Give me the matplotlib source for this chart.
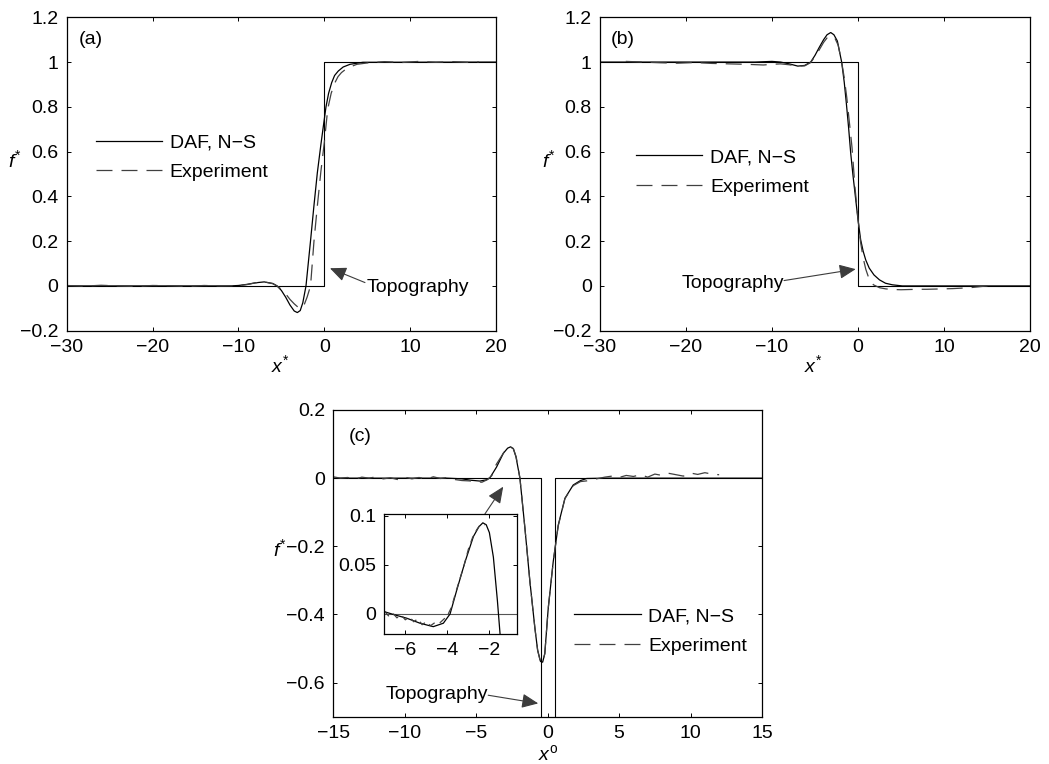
import matplotlib
matplotlib.use("Agg")
import matplotlib.pyplot as plt
from matplotlib.ticker import FixedLocator, FuncFormatter

plt.rcParams["font.family"] = ["Liberation Sans", "DejaVu Sans"]
plt.rcParams["font.size"] = 14
plt.rcParams["mathtext.fontset"] = "custom"
plt.rcParams["mathtext.it"] = "Liberation Sans:italic"
plt.rcParams["mathtext.rm"] = "Liberation Sans"
plt.rcParams["lines.scale_dashes"] = False
plt.rcParams["axes.linewidth"] = 0.9

# ---------------- panel (a): step up ----------------
topo_a_x = [-30, 0, 0, 20]
topo_a_y = [0, 0, 1, 1]

daf_a_x = [-30, -11, -10, -9, -8, -7, -6, -5.5, -5, -4.5, -4, -3.5, -3.14, -2.8,
           -2.5, -2.13, -1.59, -1.2, -0.81, -0.4, -0.11, 0.2, 0.5, 0.86, 1.2,
           1.63, 2.2, 3.0, 4.5, 20]
daf_a_y = [0, 0, 0.002, 0.007, 0.014, 0.018, 0.011, 0.0, -0.02, -0.05, -0.085,
           -0.112, -0.119, -0.11, -0.075, 0.0, 0.206, 0.36, 0.505, 0.63, 0.713,
           0.8, 0.86, 0.908, 0.94, 0.96, 0.978, 0.99, 0.999, 1.0]

exp_a_x = [-30, -28, -26, -24, -22, -20, -18, -16, -14, -12, -10, -9, -8, -7, -6,
           -5.5, -5, -4.5, -4, -3.5, -3.0, -2.7, -2.4, -2.0, -1.6, -1.2, -0.8,
           -0.4, 0.0, 0.4, 0.8, 1.2, 1.6, 2.0, 2.5, 3.0, 3.8, 5, 7, 9, 11, 13,
           15, 17, 18]
exp_a_y = [0.002, -0.001, 0.003, 0.0, -0.002, 0.002, 0.001, -0.002, 0.002, 0.0,
           0.001, 0.006, 0.014, 0.018, 0.01, 0.0, -0.015, -0.035, -0.06, -0.08,
           -0.097, -0.1, -0.09, -0.05, 0.0, 0.2, 0.36, 0.51, 0.64, 0.79, 0.86,
           0.905, 0.935, 0.953, 0.968, 0.978, 0.99, 0.996, 1.002, 0.998, 1.003,
           0.999, 1.002, 0.998, 1.001]

# ---------------- panel (b): step down ----------------
topo_b_x = [-30, 0, 0, 20]
topo_b_y = [1, 1, 0, 0]

daf_b_x = [-30, -12, -10, -9, -8, -7, -6.2, -5.5, -5, -4.53, -4, -3.6, -3.17,
           -2.8, -2.4, -1.9, -1.6, -1.36, -1.1, -0.85, -0.6, -0.35, 0.0, 0.31,
           0.6, 0.9, 1.3, 1.86, 2.5, 3.2, 4.0, 5.15, 20]
daf_b_y = [1, 1, 1.003, 1.0, 0.992, 0.982, 0.985, 1.0, 1.03, 1.064, 1.1, 1.122,
           1.132, 1.122, 1.094, 1.0, 0.91, 0.818, 0.71, 0.594, 0.5, 0.415, 0.296,
           0.206, 0.155, 0.116, 0.08, 0.049, 0.027, 0.012, 0.005, 0.0, 0.0]

exp_b_x = [-27, -25, -23, -21, -19, -17, -15, -13, -11, -10, -9, -8, -7, -6.2,
           -5.5, -5, -4.5, -4, -3.6, -3.1, -2.7, -2.3, -1.9, -1.6, -1.3, -1.0,
           -0.7, -0.35, 0.0, 0.3, 0.6, 0.9, 1.3, 1.8, 2.5, 3.2, 4, 5, 6, 7, 8,
           9, 10, 11, 12, 13, 14, 15, 15.8]
exp_b_y = [1.003, 1.0, 0.997, 0.995, 0.998, 0.994, 0.992, 0.99, 0.987, 0.99,
           0.992, 0.988, 0.982, 0.983, 0.998, 1.025, 1.055, 1.088, 1.108, 1.117,
           1.108, 1.075, 1.0, 0.93, 0.84, 0.73, 0.62, 0.44, 0.3, 0.195, 0.125,
           0.075, 0.03, 0.005, -0.008, -0.013, -0.016, -0.017, -0.016, -0.015,
           -0.015, -0.014, -0.013, -0.012, -0.01, -0.008, -0.004, 0.0, 0.004]

# ---------------- panel (c): narrow trench ----------------
topo_c_x = [-15, -0.5, -0.5, 0.5, 0.5, 15]
topo_c_y = [0, 0, -1, -1, 0, 0]

daf_c_x = [-15, -8, -7, -6, -5.4, -4.74, -4.3, -4.04, -3.57, -3.1, -2.8, -2.59,
           -2.4, -2.22, -1.94, -1.59, -1.24, -0.89, -0.7, -0.5, -0.35, -0.2,
           0.04, 0.39, 0.74, 1.21, 1.79, 2.3, 2.73, 4, 15]
daf_c_y = [0, 0, 0.0, -0.002, -0.006, -0.0085, -0.005, 0.001, 0.033, 0.073,
           0.088, 0.092, 0.086, 0.063, 0.0, -0.147, -0.304, -0.441, -0.505,
           -0.538, -0.54, -0.515, -0.382, -0.245, -0.138, -0.059, -0.02, -0.007,
           -0.001, 0, 0]

exp_c_x = [-15, -14.5, -14, -13.5, -13, -12.5, -12, -11.5, -11, -10.5, -10,
           -9.5, -9, -8.5, -8, -7.5, -7, -6.5, -6, -5.5, -5, -4.6, -4.2, -3.9,
           -3.6, -3.3, -3.0, -2.8, -2.59, -2.4, -2.2, -1.94, -1.59, -1.24, -0.89,
           -0.7, -0.5, -0.35, -0.2, 0.04, 0.39, 0.74, 1.21, 1.79, 2.3, 2.73, 3.2,
           4, 4.5, 5, 5.5, 6, 6.5, 7, 7.5, 8, 8.5, 9, 9.5, 10, 10.5, 11, 11.5, 12]
exp_c_y = [0.004, 0.0, 0.002, -0.003, 0.003, 0.0, 0.004, -0.002, 0.001, -0.004,
           0.003, -0.002, 0.002, -0.003, 0.004, -0.001, 0.002, -0.004, -0.007,
           -0.008, -0.01, -0.012, -0.004, 0.008, 0.04, 0.06, 0.08, 0.088, 0.091,
           0.087, 0.062, 0.0, -0.147, -0.304, -0.441, -0.505, -0.54, -0.54,
           -0.515, -0.382, -0.245, -0.14, -0.06, -0.022, -0.01, -0.008, -0.004,
           0.003, 0.006, 0.002, 0.008, 0.005, 0.01, 0.003, 0.012, 0.008, 0.014,
           0.01, 0.006, 0.015, 0.011, 0.016, 0.012, 0.01]

# close-up of the upstream hump, as plotted in the inset
inset_daf_x = [-7.0, -6.5, -5.93, -5.3, -4.67, -4.19, -3.87, -3.55, -3.16, -2.76,
               -2.5, -2.31, -2.15, -2.0, -1.81, -1.62, -1.49]
inset_daf_y = [0.0023, -0.001, -0.0044, -0.0095, -0.013, -0.0095, 0.0, 0.0245,
               0.053, 0.079, 0.089, 0.093, 0.091, 0.083, 0.058, 0.014, -0.021]
inset_exp_x = [-7.0, -6.8, -6.6, -6.4, -6.2, -6.0, -5.8, -5.6, -5.4, -5.2, -5.0,
               -4.8, -4.6, -4.4, -4.2, -4.0, -3.8, -3.6, -3.4, -3.2, -3.0, -2.8,
               -2.6, -2.4, -2.2]
inset_exp_y = [0.003, -0.002, 0.001, -0.004, -0.001, -0.006, -0.003, -0.008,
               -0.005, -0.011, -0.008, -0.012, -0.009, -0.01, -0.006, -0.002,
               0.007, 0.022, 0.036, 0.05, 0.066, 0.078, 0.086, 0.092, 0.091]

# ---------------- ticks ----------------
ab_xticks = [-30, -20, -10, 0, 10, 20]
ab_yticks = [-0.2, 0, 0.2, 0.4, 0.6, 0.8, 1, 1.2]
c_xticks = [-15, -10, -5, 0, 5, 10, 15]
c_yticks = [-0.6, -0.4, -0.2, 0, 0.2]
inset_xticks = [-6, -4, -2]
inset_yticks = [0, 0.05, 0.1]

legend_labels = ["DAF, N\u2212S", "Experiment"]

SOLID = dict(color="black", lw=0.9)
DASHED = dict(color="#404040", lw=0.9, dashes=(11.5, 6.5))
TOPO = dict(color="black", lw=0.8)
ARROW = dict(arrowstyle="-|>,head_length=0.5,head_width=0.22", color="#3c3c3c",
             lw=0.8, shrinkA=0, shrinkB=0, mutation_scale=20)


def fmt(v, _pos):
    v = round(v, 6)
    if v == 0:
        return "0"
    return f"{v:g}".replace("-", "\u2212")


def style(ax, xticks, yticks, pad_x=6, pad_y=6):
    ax.xaxis.set_major_locator(FixedLocator(xticks))
    ax.yaxis.set_major_locator(FixedLocator(yticks))
    ax.xaxis.set_major_formatter(FuncFormatter(fmt))
    ax.yaxis.set_major_formatter(FuncFormatter(fmt))
    ax.tick_params(direction="in", top=True, right=True, length=3.2, width=0.7)
    ax.tick_params(axis="x", pad=pad_x)
    ax.tick_params(axis="y", pad=pad_y)
    for s in ax.spines.values():
        s.set_color("black")


W, H = 1049, 764
fig = plt.figure(figsize=(W / 100, H / 100), dpi=100)


def rect(l, t, r, b):
    return [l / W, 1 - b / H, (r - l) / W, (b - t) / H]


ax_a = fig.add_axes(rect(66.7, 17.3, 496, 330.7))
ax_b = fig.add_axes(rect(600, 17.3, 1030, 330.7))
ax_c = fig.add_axes(rect(333.3, 410, 762, 716.7))

# panel (a)
ax_a.plot(topo_a_x, topo_a_y, **TOPO)
la1, = ax_a.plot(daf_a_x, daf_a_y, **SOLID)
la2, = ax_a.plot(exp_a_x, exp_a_y, **DASHED)
ax_a.set_xlim(-30, 20)
ax_a.set_ylim(-0.2, 1.2)
style(ax_a, ab_xticks, ab_yticks)
ax_a.annotate("", xy=(0.66, 0.079), xytext=(4.74, 0.015), arrowprops=ARROW)
ax_a.text(4.94, -0.005, "Topography", ha="left", va="center")
ax_a.text(0.027, 0.928, "(a)", transform=ax_a.transAxes, ha="left", va="center")

# panel (b)
ax_b.plot(topo_b_x, topo_b_y, **TOPO)
lb1, = ax_b.plot(daf_b_x, daf_b_y, **SOLID)
lb2, = ax_b.plot(exp_b_x, exp_b_y, **DASHED)
ax_b.set_xlim(-30, 20)
ax_b.set_ylim(-0.2, 1.2)
style(ax_b, ab_xticks, ab_yticks)
ax_b.annotate("", xy=(-0.27, 0.075), xytext=(-8.6, 0.024), arrowprops=ARROW)
ax_b.text(-8.6, 0.01, "Topography", ha="right", va="center")
ax_b.text(0.026, 0.928, "(b)", transform=ax_b.transAxes, ha="left", va="center")

# panel (c)
ax_c.plot(topo_c_x, topo_c_y, **TOPO)
lc1, = ax_c.plot(daf_c_x, daf_c_y, **SOLID)
lc2, = ax_c.plot(exp_c_x, exp_c_y, **DASHED)
ax_c.set_xlim(-15, 15)
ax_c.set_ylim(-0.7, 0.2)
style(ax_c, c_xticks, c_yticks)
ax_c.annotate("", xy=(-0.66, -0.661), xytext=(-4.16, -0.637), arrowprops=ARROW)
ax_c.text(-4.16, -0.636, "Topography", ha="right", va="center")
ax_c.annotate("", xy=(-3.11, -0.025), xytext=(-4.39, -0.105), arrowprops=ARROW)
ax_c.text(0.037, 0.915, "(c)", transform=ax_c.transAxes, ha="left", va="center")

# axis labels
for ax in (ax_a, ax_b):
    ax.text(-0.12, 0.545, r"$f^{*}$", transform=ax.transAxes, ha="center", va="center")
    ax.text(0.497, -0.11, r"$x^{*}$", transform=ax.transAxes, ha="center", va="center")
ax_c.text(-0.124, 0.545, r"$f^{*}$", transform=ax_c.transAxes, ha="center", va="center")
ax_c.text(0.502, -0.123, r"$x^{\mathrm{o}}$", transform=ax_c.transAxes, ha="center",
          va="center")

# legends
leg_kw = dict(frameon=False, borderpad=0, borderaxespad=0, handlelength=3.4,
              handletextpad=0.4, labelspacing=0.62, loc="center left")
ax_a.legend([la1, la2], legend_labels, bbox_to_anchor=(0.068, 0.5525), **leg_kw)
ax_b.legend([lb1, lb2], legend_labels, bbox_to_anchor=(0.084, 0.5057), **leg_kw)
ax_c.legend([lc1, lc2], legend_labels, bbox_to_anchor=(0.5625, 0.2788), **leg_kw)

# inset of panel (c)
ax_i = fig.add_axes(rect(384.3, 514, 516.7, 634))
ax_i.plot(topo_c_x, topo_c_y, color="#555555", lw=0.8)
ax_i.plot(inset_daf_x, inset_daf_y, **SOLID)
ax_i.plot(inset_exp_x, inset_exp_y, color="#404040", lw=0.9, dashes=(5, 4))
ax_i.set_xlim(-7, -0.7)
ax_i.set_ylim(-0.0205, 0.102)
style(ax_i, inset_xticks, inset_yticks)

fig.savefig("out.png", dpi=100)
